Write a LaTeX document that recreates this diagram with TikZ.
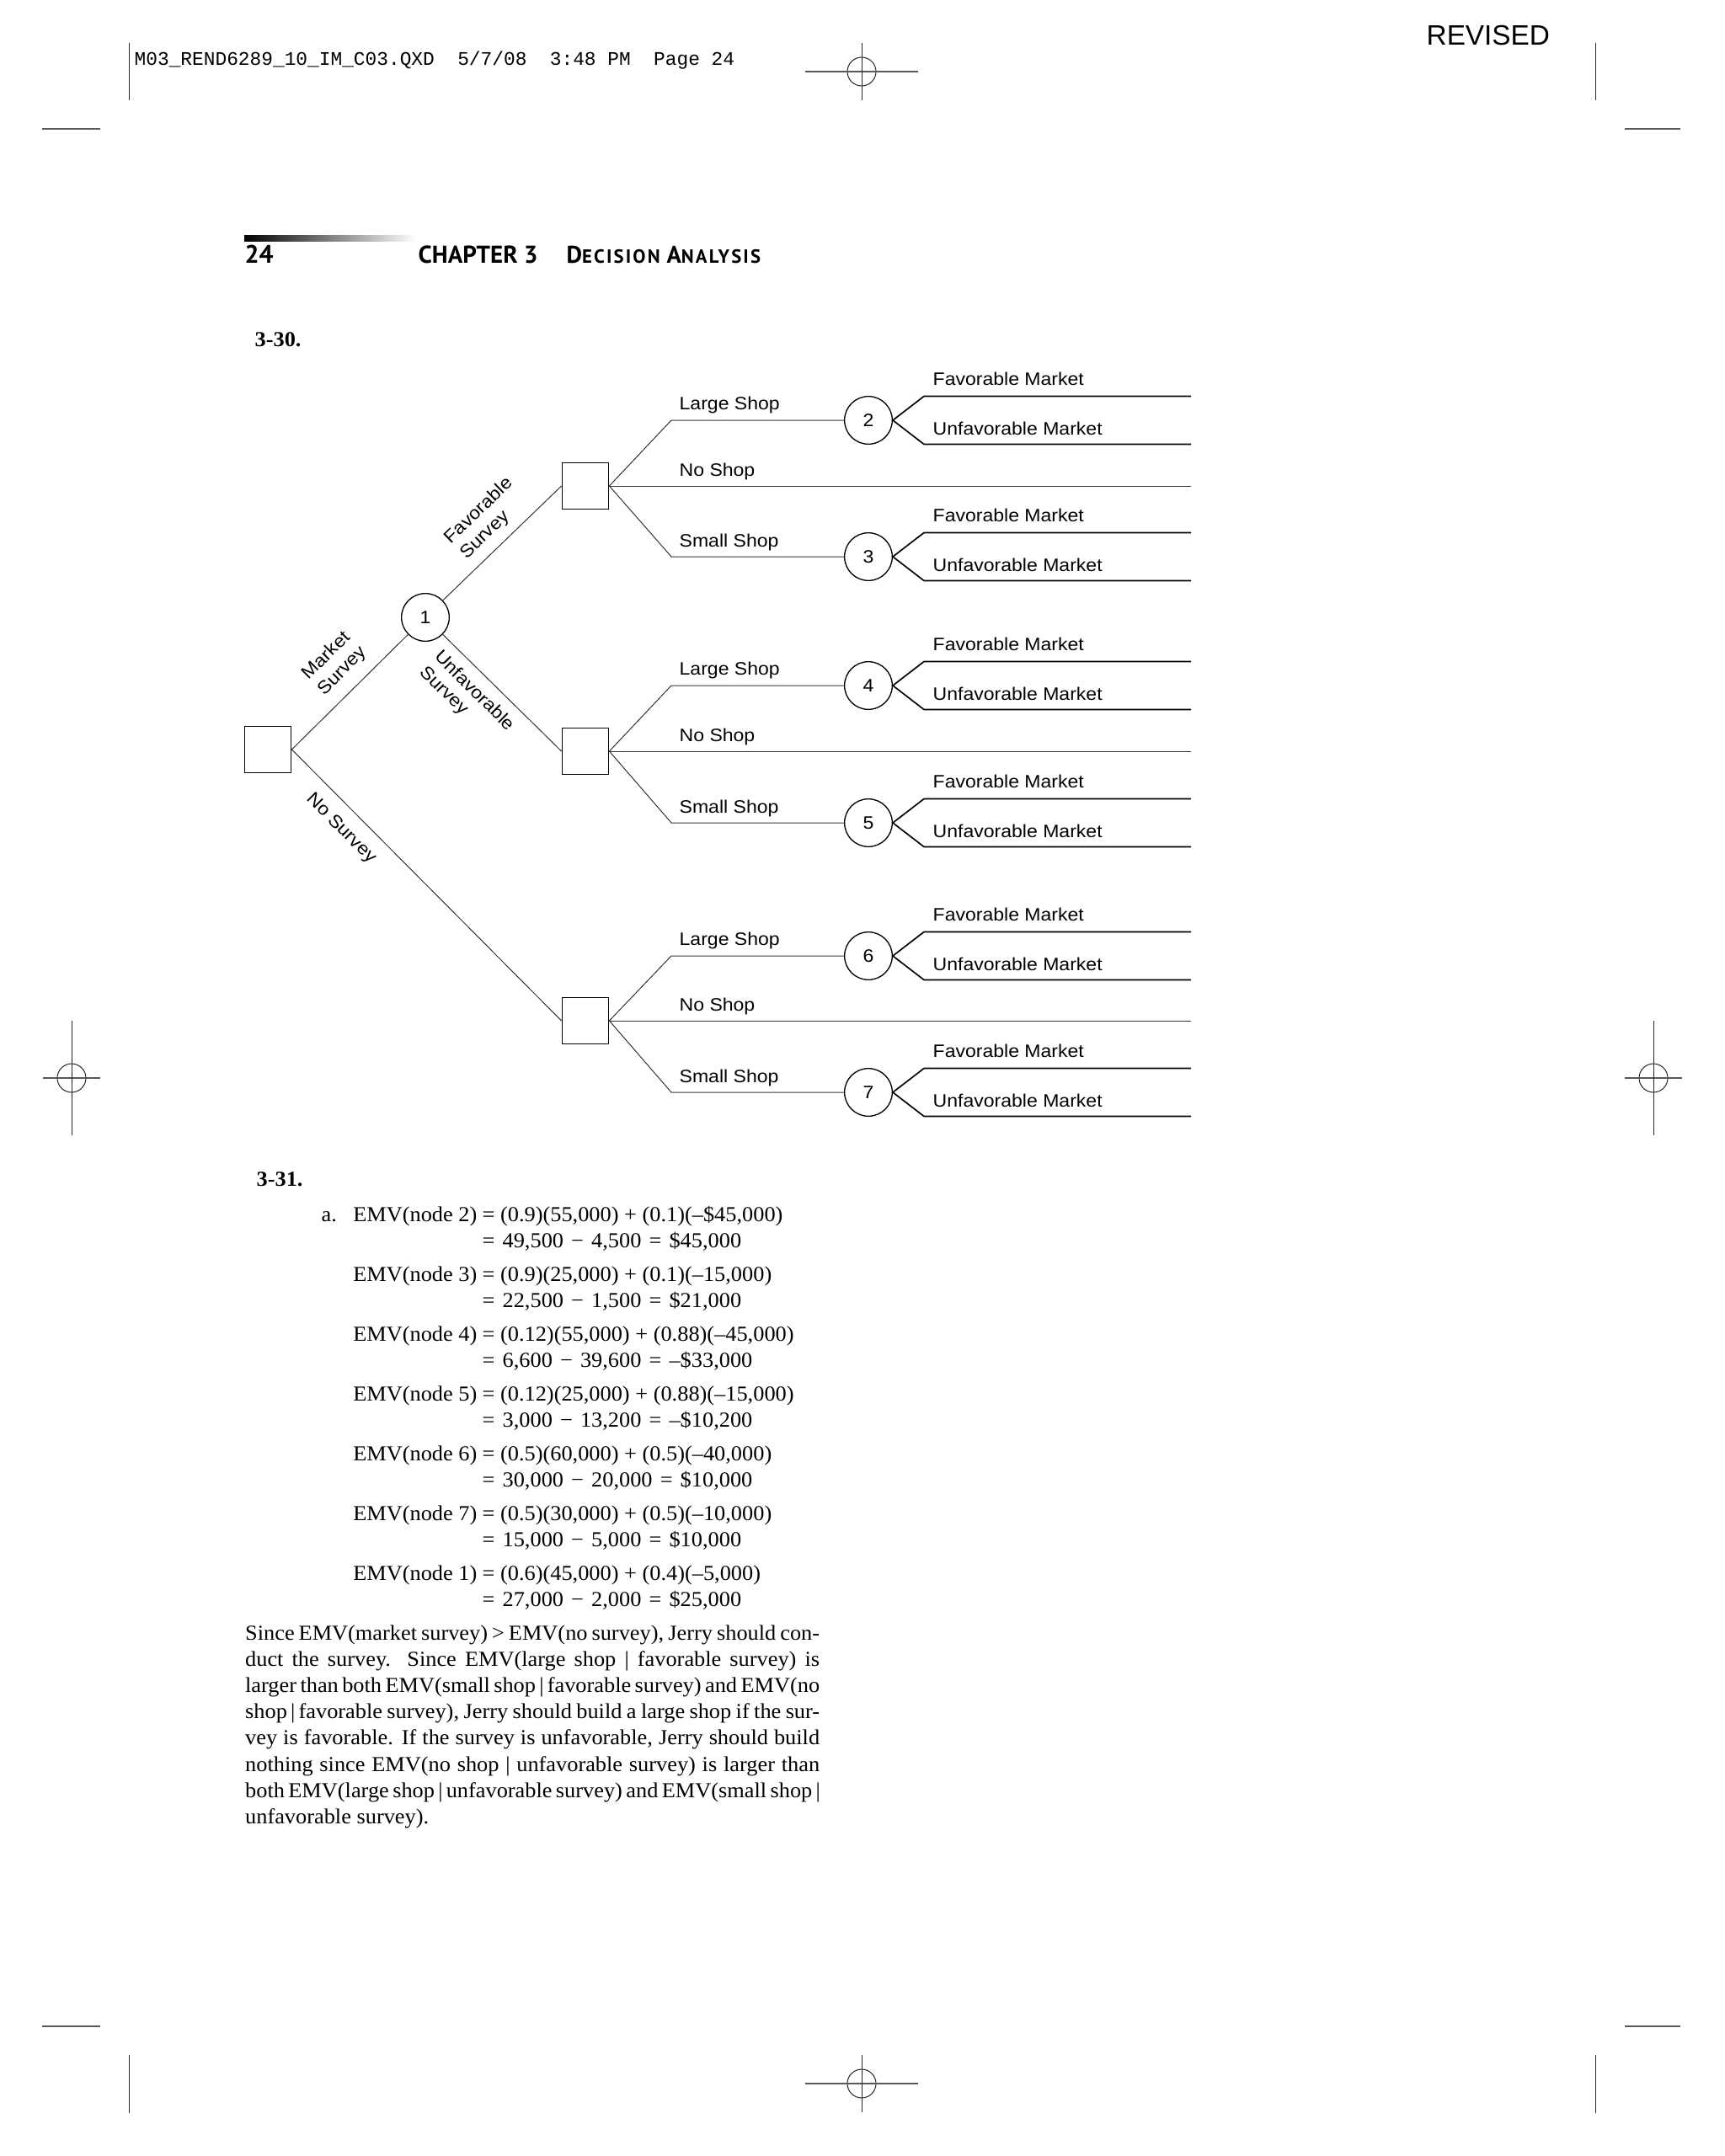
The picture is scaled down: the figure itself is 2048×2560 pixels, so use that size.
\documentclass[tikz,border=0pt]{standalone}
\usepackage{fontspec}
\usepackage{graphicx}
\setmainfont[FakeStretch=1.04]{Liberation Serif}
\newfontfamily\diagfont[FakeStretch=1.08]{Liberation Sans}
\newfontfamily\revfont{Liberation Sans}
\newfontfamily\typefont{Liberation Mono}
\newfontfamily\headfont{PT Sans}
\newfontfamily\headsc[LetterSpace=9.5]{PT Sans}
\newcommand\diagsize{\diagfont\fontsize{6.4}{7.6}\selectfont}
\newcommand\bodysize{\fontsize{7.6}{9.3}\selectfont}
\newcommand\ms{\hspace{0.36em}}
\usetikzlibrary{calc}
\tikzset{
  dec/.style={draw, rectangle, line width=0.45pt, minimum size=16.6pt, inner sep=0pt},
  chance/.style={draw, circle, line width=0.4pt, minimum size=17pt, inner sep=0pt, font=\diagsize},
  br/.style={line width=0.3pt, draw=black!80},
  outl/.style={line width=0.5pt},
  lbl/.style={anchor=base west, inner sep=0pt, font=\diagsize},
  slbl/.style={anchor=west, inner sep=0pt, font=\diagsize},
  txt/.style={anchor=base west, inner sep=0pt, font=\bodysize},
  txr/.style={anchor=base east, inner sep=0pt, font=\bodysize},
  thinmark/.style={line width=0.3pt, draw=black!85},
  thickmark/.style={line width=0.6pt, draw=black!65},
}
\begin{document}
\begin{tikzpicture}[x=0.3pt,y=-0.3pt]
\useasboundingbox (0,0) rectangle (2048,2560);
\fill[white] (0,0) rectangle (2048,2560);

% ---------- printer marks ----------
\foreach \cx/\cy in {1023/85, 1023/2474}{
  \draw[thinmark] (\cx,\cy) circle[radius=17];
  \draw[thickmark] (\cx-67,\cy) -- (\cx+67,\cy);
  \draw[thinmark] (\cx,\cy-34) -- (\cx,\cy+34);
}
\foreach \cx/\cy in {85/1280, 1963/1280}{
  \draw[thinmark] (\cx,\cy) circle[radius=17];
  \draw[thickmark] (\cx-34,\cy) -- (\cx+34,\cy);
  \draw[thinmark] (\cx,\cy-68) -- (\cx,\cy+68);
}
\foreach \cx in {153,1894}{
  \draw[thinmark] (\cx,51) -- (\cx,119);
  \draw[thinmark] (\cx,2440) -- (\cx,2509);
}
\foreach \cy in {153,2406}{
  \draw[thickmark] (50,\cy) -- (119,\cy);
  \draw[thickmark] (1929,\cy) -- (1995,\cy);
}
\node[anchor=base west, inner sep=0pt, font=\typefont\fontsize{6.85}{8}\selectfont] (slug) at (159,77)
  {M03\_REND6289\_10\_IM\_C03.QXD~~5/7/08~~3:48~PM~~Page~24};
\node[anchor=base west, inner sep=0pt, font=\revfont\fontsize{10}{12}\selectfont] (revised) at (1693,53) {REVISED};

% ---------- running head ----------
\shade[left color=black, right color=white] (290,279) rectangle (494,286);
\node[anchor=base west, inner sep=0pt, font=\headfont\bfseries\fontsize{9}{10}\selectfont] (pg) at (290,312) {24};
\node[anchor=base west, inner sep=0pt, font=\headfont\bfseries\fontsize{8.7}{10}\selectfont] (chap) at (496,312) {CHAPTER 3};
\node[anchor=base west, inner sep=0pt] (sect) at (672,312)
  {\headsc\bfseries\fontsize{8.6}{10}\selectfont D\fontsize{6.8}{8}\selectfont ECISION \fontsize{8.6}{10}\selectfont A\fontsize{6.8}{8}\selectfont NALYSIS};

% ---------- 3-30 ----------
\node[txt, font=\bodysize\bfseries] (h330) at (302,411) {3-30.};

% decision tree nodes
\node[dec] (r) at (318,890) {};
\node[chance] (c1) at (505,733) {1};
\node[dec] (d1) at (695,577) {};
\node[dec] (d2) at (695,892) {};
\node[dec] (d3) at (695,1212) {};
\node[chance] (c2) at (1031,499) {2};
\node[chance] (c3) at (1031,661) {3};
\node[chance] (c4) at (1031,814) {4};
\node[chance] (c5) at (1031,977) {5};
\node[chance] (c6) at (1031,1135) {6};
\node[chance] (c7) at (1031,1297) {7};

% corners and ends
\coordinate (k2) at (797,499);
\coordinate (k3) at (797,661);
\coordinate (k4) at (797,814);
\coordinate (k5) at (797,977);
\coordinate (k6) at (797,1135);
\coordinate (k7) at (797,1297);
\coordinate (n1) at (1414,577);
\coordinate (n2) at (1414,892);
\coordinate (n3) at (1414,1212);

% first-stage branches
\draw[br] (r.east) -- (c1);
\draw[br] (c1) -- (d1.west);
\draw[br] (c1) -- (d2.west);
\draw[br] (r.east) -- (d3.west);

\node[slbl, rotate=45] (lms1) at (361,803) {Market};
\node[slbl, rotate=45] (lms2) at (381,823) {Survey};
\node[slbl, rotate=44] (lfs1) at (530,641) {Favorable};
\node[slbl, rotate=44] (lfs2) at (550,661) {Survey};
\node[slbl, rotate=-45] (lus1) at (520,775) {Unfavorable};
\node[slbl, rotate=-45] (lus2) at (501,795) {Survey};
\node[inner sep=0pt, font=\diagsize, rotate=-45] (lns) at (405,984) {No Survey};

% decision branches
\draw[br] (d1.east) -- (k2) -- (c2);
\draw[br] (d1.east) -- (n1);
\draw[br] (d1.east) -- (k3) -- (c3);
\draw[br] (d2.east) -- (k4) -- (c4);
\draw[br] (d2.east) -- (n2);
\draw[br] (d2.east) -- (k5) -- (c5);
\draw[br] (d3.east) -- (k6) -- (c6);
\draw[br] (d3.east) -- (n3);
\draw[br] (d3.east) -- (k7) -- (c7);

\node[lbl] (ls1) at (806,486) {Large Shop};
\node[lbl] (ns1) at (806,565) {No Shop};
\node[lbl] (ss1) at (806,649) {Small Shop};
\node[lbl] (ls2) at (806,801) {Large Shop};
\node[lbl] (ns2) at (806,880) {No Shop};
\node[lbl] (ss2) at (806,965) {Small Shop};
\node[lbl] (ls3) at (806,1122) {Large Shop};
\node[lbl] (ns3) at (806,1200) {No Shop};
\node[lbl] (ss3) at (806,1285) {Small Shop};

% outcome branches
\foreach \n/\y in {2/499,3/661,4/814,5/977,6/1135,7/1297}{
  \coordinate (fe\n) at (1414,\y-28.5);
  \coordinate (ue\n) at (1414,\y+28.5);
  \draw[outl] (c\n.east) -- (1097,\y-28.5) -- (fe\n);
  \draw[outl] (c\n.east) -- (1097,\y+28.5) -- (ue\n);
  \node[lbl] (fm\n) at (1107,\y-41.5) {Favorable Market};
  \node[lbl] (um\n) at (1107,\y+17) {Unfavorable Market};
}

% ---------- 3-31 ----------
\node[txt, font=\bodysize\bfseries] (h331) at (304,1408) {3-31.};
\node[txt] (pa) at (381,1450.5) {a.};

\node[txr] (e2l) at (567,1450.5) {EMV(node 2)};
\node[txt] (e2r) at (572,1450.5) {= (0.9)(55,000) + (0.1)(–\$45,000)};
\node[txt] (e2s) at (572,1481) {=\ms49,500\ms−\ms4,500\ms=\ms\$45,000};

\node[txr] (e3l) at (567,1521.5) {EMV(node 3)};
\node[txt] (e3r) at (572,1521.5) {= (0.9)(25,000) + (0.1)(–15,000)};
\node[txt] (e3s) at (572,1552) {=\ms22,500\ms−\ms1,500\ms=\ms\$21,000};

\node[txr] (e4l) at (567,1592.5) {EMV(node 4)};
\node[txt] (e4r) at (572,1592.5) {= (0.12)(55,000) + (0.88)(–45,000)};
\node[txt] (e4s) at (572,1623) {=\ms6,600\ms−\ms39,600\ms=\ms–\$33,000};

\node[txr] (e5l) at (567,1663.5) {EMV(node 5)};
\node[txt] (e5r) at (572,1663.5) {= (0.12)(25,000) + (0.88)(–15,000)};
\node[txt] (e5s) at (572,1694) {=\ms3,000\ms−\ms13,200\ms=\ms–\$10,200};

\node[txr] (e6l) at (567,1734.5) {EMV(node 6)};
\node[txt] (e6r) at (572,1734.5) {= (0.5)(60,000) + (0.5)(–40,000)};
\node[txt] (e6s) at (572,1765) {=\ms30,000\ms−\ms20,000\ms=\ms\$10,000};

\node[txr] (e7l) at (567,1805.5) {EMV(node 7)};
\node[txt] (e7r) at (572,1805.5) {= (0.5)(30,000) + (0.5)(–10,000)};
\node[txt] (e7s) at (572,1836) {=\ms15,000\ms−\ms5,000\ms=\ms\$10,000};

\node[txr] (e1l) at (567,1876.5) {EMV(node 1)};
\node[txt] (e1r) at (572,1876.5) {= (0.6)(45,000) + (0.4)(–5,000)};
\node[txt] (e1s) at (572,1907) {=\ms27,000\ms−\ms2,000\ms=\ms\$25,000};

% paragraph
\node[txt] (p1) at (290.5,1947.5) {\makebox[204.6pt][s]{Since EMV(market survey) > EMV(no survey), Jerry should con-}};
\node[txt] (p2) at (290.5,1978.6) {\makebox[204.6pt][s]{duct the survey. Since EMV(large shop | favorable survey) is}};
\node[txt] (p3) at (290.5,2009.7) {\makebox[204.6pt][s]{larger than both EMV(small shop\,|\,favorable survey) and EMV(no}};
\node[txt] (p4) at (290.5,2040.8) {\makebox[204.6pt][s]{shop\,|\,favorable survey), Jerry should build a large shop if the sur-}};
\node[txt] (p5) at (290.5,2071.9) {\makebox[204.6pt][s]{vey is favorable. If the survey is unfavorable, Jerry should build}};
\node[txt] (p6) at (290.5,2103.0) {\makebox[204.6pt][s]{nothing since EMV(no shop | unfavorable survey) is larger than}};
\node[txt] (p7) at (290.5,2134.1) {\makebox[204.6pt][s]{both EMV(large shop\,|\,unfavorable survey) and EMV(small shop\,|}};
\node[txt] (p8) at (290.5,2165.2) {unfavorable survey).};
\end{tikzpicture}
\end{document}
